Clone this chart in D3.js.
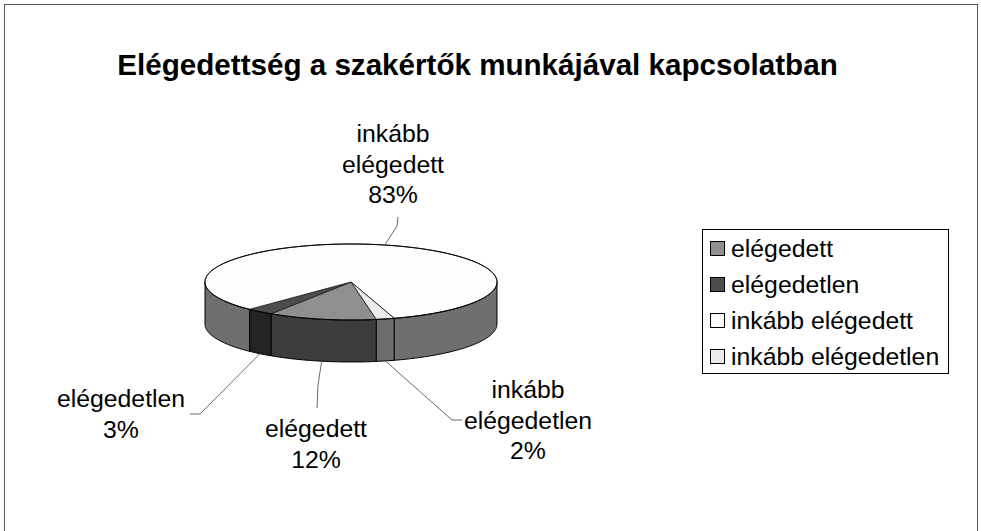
<!DOCTYPE html>
<html>
<head>
<meta charset="utf-8">
<script src="https://cdn.jsdelivr.net/npm/d3@7/dist/d3.min.js"></script>
<style>
  html, body { margin: 0; padding: 0; background: #fff; }
  svg { display: block; }
  text { font-family: "Liberation Sans", Arial, sans-serif; fill: #000; }
</style>
</head>
<body>
<script>
// Survey answers: satisfaction with the experts' work
const categories = ["elégedett", "elégedetlen", "inkább elégedett", "inkább elégedetlen"];
const values = [12, 3, 83, 2];
const topColors = ["#8f8f8f", "#4d4d4d", "#fdfdfd", "#ebebeb"];
const sideColors = ["#3c3c3c", "#232323", "#6f6f6f", "#6c6c6c"];
const chartTitle = "Elégedettség a szakértők munkájával kapcsolatban";

const W = 981, H = 531;
const svg = d3.select("body").append("svg").attr("width", W).attr("height", H);

// chart frame
svg.append("rect").attr("x", 4.5).attr("y", 4.5).attr("width", 973).attr("height", 560)
  .attr("fill", "#fff").attr("stroke", "#555").attr("stroke-width", 1);

// title
svg.append("text").attr("x", 477.5).attr("y", 75).attr("text-anchor", "middle")
  .style("font-size", "29.6px").style("font-weight", "bold").text(chartTitle);

// 3D pie geometry
const cx = 351, cy = 282, rx = 146, ry = 38, depth = 42;
const toRad = Math.PI / 180;
const pie = d3.pie().sort(null).value(d => d)
  .startAngle(170 * toRad).endAngle(170 * toRad + 2 * Math.PI);
const arcs = pie(values);

const px = d3.scaleLinear().domain([-1, 1]).range([cx - rx, cx + rx]);
const py = d3.scaleLinear().domain([-1, 1]).range([cy - ry, cy + ry]);
const pt = (a, dz = 0) => [px(Math.sin(a)), py(-Math.cos(a)) + dz];

function rimPoints(a0, a1, dz) {
  const n = Math.max(2, Math.ceil(Math.abs(a1 - a0) / toRad));
  return d3.range(n + 1).map(i => pt(a0 + (a1 - a0) * i / n, dz));
}

// visible outer walls: the part of each slice on the front half (90°..270°)
const walls = svg.append("g");
arcs.forEach((d, i) => {
  [0, 2 * Math.PI].forEach(off => {
    const a = Math.max(d.startAngle - off, Math.PI / 2);
    const b = Math.min(d.endAngle - off, 3 * Math.PI / 2);
    if (b <= a) return;
    const top = rimPoints(a, b, 0);
    const bottom = rimPoints(b, a, depth);
    walls.append("path")
      .attr("d", d3.line()(top.concat(bottom)) + "Z")
      .attr("fill", sideColors[i]).attr("stroke", "#000").attr("stroke-width", 1)
      .attr("stroke-linejoin", "round");
  });
});

// top faces
const tops = svg.append("g");
arcs.forEach((d, i) => {
  const pts = [[cx, cy]].concat(rimPoints(d.startAngle, d.endAngle, 0));
  tops.append("path")
    .attr("d", d3.line()(pts) + "Z")
    .attr("fill", topColors[i]).attr("stroke", "#222").attr("stroke-width", 0.9)
    .attr("stroke-linejoin", "round");
});
// outline of the top ellipse
svg.append("path")
  .attr("d", d3.line()(rimPoints(0, 2 * Math.PI, 0)) + "Z")
  .attr("fill", "none").attr("stroke", "#000").attr("stroke-width", 1);

// data labels with leader lines
const labelLayout = [
  { x: 316, y: 437, lead: [[317, 408], [318, 385]], onTop: false },
  { x: 121, y: 407, lead: [[190, 414], [200, 414]], onTop: false },
  { x: 393, y: 142, lead: [[398, 217], [397, 226]], onTop: true },
  { x: 528, y: 398, lead: [[462, 420], [452, 420]], onTop: false }
];
const lineH = 30.5;
const labels = svg.append("g");
arcs.forEach((d, i) => {
  const L = labelLayout[i];
  const mid = (d.startAngle + d.endAngle) / 2;
  const end = pt(mid, L.onTop ? 0 : depth);
  labels.append("path")
    .attr("d", d3.line()(L.lead.concat([end])))
    .attr("fill", "none").attr("stroke", "#6b6b6b").attr("stroke-width", 1);
  const lines = categories[i].split(" ").concat([values[i] + "%"]);
  const t = labels.append("text").attr("text-anchor", "middle").style("font-size", "24.8px");
  lines.forEach((s, k) => {
    t.append("tspan").attr("x", L.x).attr("y", L.y + k * lineH).text(s);
  });
});

// legend
const lg = svg.append("g");
lg.append("rect").attr("x", 702.5).attr("y", 229.5).attr("width", 246).attr("height", 144)
  .attr("fill", "#fff").attr("stroke", "#000").attr("stroke-width", 1);
const rowY = d3.scalePoint().domain(categories).range([249, 357]);
categories.forEach((c, i) => {
  const y = rowY(c);
  lg.append("rect").attr("x", 710.5).attr("y", y - 7.5).attr("width", 14).attr("height", 14)
    .attr("fill", topColors[i]).attr("stroke", "#000").attr("stroke-width", 1);
  lg.append("text").attr("x", 731).attr("y", y + 8).style("font-size", "24.8px").text(c);
});
</script>
</body>
</html>
